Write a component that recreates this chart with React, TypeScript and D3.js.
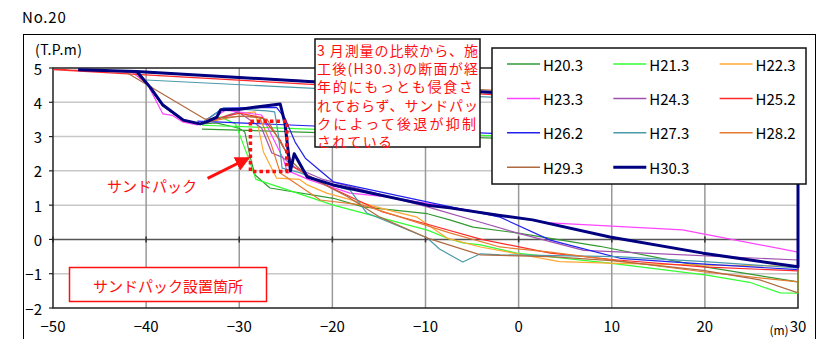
import React, { useEffect, useRef } from "react";
import * as d3 from "d3";

// survey names and colours (legend order)
const surveys = ["H20.3", "H21.3", "H22.3", "H23.3", "H24.3", "H25.2", "H26.2", "H27.3", "H28.2", "H29.3", "H30.3"];
const surveyColors = ["#339933", "#33ff33", "#ffa833", "#ff44ff", "#a050b0", "#ff2a2a", "#2222ee", "#4a9aaa", "#e67a2e", "#b06a40", "#000080"];

// cross-section profiles [distance (m), elevation (T.P.m)]
const h20_3 = [[-47.3, 4.95], [-41.2, 4.9], [-39.6, 4.45], [-38.2, 3.9], [-36, 3.47], [-34.2, 3.36], [-32.5, 3.4], [-30.1, 3.25], [-29.4, 3.13], [-28.8, 2.37], [-28.3, 1.88], [-26.7, 1.5], [-19.9, 1.2], [-16.7, 0.95], [-9.8, 0.75], [-7.4, 0.57], [-4.9, 0.36], [-0.2, 0.19], [8.7, -0.2], [20, -0.8], [30, -1.24], [30, 2.68], [-34, 3.22]];
const h21_3 = [[-47.3, 4.95], [-41.2, 4.9], [-39.6, 4.45], [-38.2, 3.9], [-36, 3.47], [-34.2, 3.36], [-32, 3.57], [-30.4, 3.37], [-29, 2.37], [-28.2, 1.75], [-19.9, 1.0], [-9.8, 0.27], [-7.7, 0.04], [-6, -0.1], [-4.1, -0.16], [-0.2, -0.4], [10, -0.7], [20.2, -1.04], [24.8, -1.25], [28.1, -1.56], [30, -1.57], [30, 2.7], [-34, 3.33]];
const h22_3 = [[-47.3, 4.95], [-41.2, 4.9], [-39.6, 4.45], [-38.2, 3.9], [-36, 3.47], [-34.2, 3.36], [-33, 3.45], [-31, 3.65], [-28.3, 3.72], [-27.4, 2.55], [-26, 1.79], [-23.5, 1.75], [-22.7, 1.59], [-20.6, 1.35], [-14.1, 0.86], [-10.9, 0.65], [-7.7, 0.04], [-4.1, -0.22], [4.4, -0.65], [10.6, -0.7], [20, -0.75], [30, -0.78]];
const h23_3 = [[-47.3, 4.95], [-41.5, 4.88], [-39.8, 4.5], [-38.2, 3.66], [-37.2, 3.62], [-36.1, 3.43], [-34.5, 3.34], [-33, 3.5], [-31.5, 3.77], [-27.6, 3.63], [-25.3, 2.37], [-24.8, 1.94], [-24.5, 1.97], [-22.4, 1.73], [-18.1, 1.35], [-14.1, 1.24], [-7.4, 0.94], [-4.1, 0.8], [3.4, 0.48], [17.6, 0.28], [30, -0.37]];
const h24_3 = [[-47.3, 4.95], [-41.2, 4.9], [-39.6, 4.45], [-38.2, 3.9], [-36, 3.47], [-34.2, 3.36], [-33, 3.45], [-30.1, 3.72], [-27.6, 3.25], [-26.5, 2.52], [-25.4, 2.4], [-24, 2.1], [-21, 1.75], [-9.8, 0.95], [-4.1, 0.5], [-0.2, 0.19], [7, -0.32], [30, -0.6]];
const h25_2 = [[-50, 4.95], [-41.2, 4.88], [-39.6, 4.43], [-38.2, 3.9], [-36, 3.46], [-34.2, 3.36], [-32, 3.55], [-30, 3.68], [-27.5, 3.55], [-25.6, 2.9], [-24.2, 2.11], [-20.3, 1.53], [-14.6, 0.8], [-9.5, 0.42], [-4, 0.0], [3.4, -0.4], [10.6, -0.6], [19.8, -0.8], [30, -0.92], [30, 3.72], [-50, 4.95]];
const h26_2 = [[-47.3, 4.95], [-41.2, 4.9], [-39.6, 4.45], [-38.2, 3.9], [-36, 3.47], [-34.2, 3.36], [-31.7, 3.83], [-26, 3.85], [-25.1, 3.54], [-24, 2.84], [-22.9, 2.37], [-19.9, 1.68], [-9.2, 1.06], [-2, 0.65], [3.4, -0.02], [10.9, -0.55], [20, -0.72], [30, -0.88], [30, 2.72], [-34.5, 3.45]];
const h27_3 = [[-47.3, 4.95], [-41.2, 4.9], [-39.6, 4.45], [-38.2, 3.9], [-36, 3.47], [-34.2, 3.36], [-31.7, 3.83], [-27, 3.75], [-26.2, 3.72], [-25.8, 3.05], [-25.4, 2.08], [-23.5, 1.95], [-20.3, 1.6], [-18.1, 1.44], [-16.3, 0.77], [-9.8, 0.04], [-8.5, -0.28], [-6, -0.66], [-4.1, -0.42], [-2, -0.45], [10.6, -0.5], [20, -0.65], [30, -0.83], [30, 3.7], [-40, 4.65]];
const h28_2 = [[-47.3, 4.95], [-41.2, 4.9], [-39.6, 4.45], [-38.2, 3.9], [-36, 3.47], [-34.2, 3.36], [-33, 3.45], [-30, 3.6], [-27.8, 3.55], [-26.6, 2.8], [-25.6, 1.94], [-21.3, 1.15], [-16.7, 1.0], [-7.4, 0.19], [-2, -0.22], [3.4, -0.37], [20, -0.95], [30, -1.24]];
const h29_3 = [[-42.3, 4.9], [-33.7, 3.51], [-32, 3.55], [-29, 3.6], [-27, 3.5], [-25.3, 2.7], [-24.2, 2.23], [-22.7, 1.85], [-18.4, 1.25], [-14.9, 0.65], [-9.8, 0.04], [-4.1, -0.45], [3.4, -0.5], [10, -0.62], [19.8, -0.9], [25.9, -1.18], [30, -1.56], [30, 3.9], [-42.3, 4.9]];
const h30_3 = [[-47.3, 4.95], [-41, 4.9], [-39.6, 4.45], [-38.2, 3.92], [-36, 3.48], [-34.2, 3.37], [-33.5, 3.43], [-32.4, 3.57], [-32, 3.78], [-29.9, 3.8], [-25.6, 3.95], [-25.1, 3.4], [-24.5, 2.0], [-24.1, 2.5], [-22.7, 1.82], [-19.9, 1.59], [-17.4, 1.44], [-9.8, 1.0], [-7.4, 0.92], [-2, 0.7], [1.5, 0.57], [9.8, 0.07], [19.8, -0.4], [30, -0.8], [30, 3.76], [-41, 4.9]];
const profiles = [h20_3, h21_3, h22_3, h23_3, h24_3, h25_2, h26_2, h27_3, h28_2, h29_3, h30_3];

const xTicks = [-50, -40, -30, -20, -10, 0, 10, 20, 30];
const yTicks = [-2, -1, 0, 1, 2, 3, 4, 5];

// sand pack zone (distance / elevation)
const sandPackX = [-28.8, -24.9];
const sandPackY = [1.98, 3.45];

const noteLines = [
  "3 月測量の比較から、施",
  "工後(H30.3)の断面が経",
  "年的にもっとも侵食さ",
  "れておらず、サンドパッ",
  "クによって後退が抑制",
  "されている",
];

const JP = "'Noto Sans CJK JP', 'Noto Sans', sans-serif";

function App() {
  const svgRef = useRef<SVGSVGElement>(null);

  useEffect(() => {
    const W = 825;
    const H = 339;
    const margin = { top: 68, right: 27, bottom: 31, left: 53 };
    const svg = d3.select(svgRef.current);
    svg.selectAll("*").remove();

    const x = d3.scaleLinear().domain([-50, 30]).range([margin.left, W - margin.right]);
    const y = d3.scaleLinear().domain([-2, 5]).range([H - margin.bottom, margin.top]);

    // outer frame
    svg.append("rect").attr("width", W).attr("height", H).attr("fill", "#fff");
    svg
      .append("rect")
      .attr("x", 23.5)
      .attr("y", 34.5)
      .attr("width", 792)
      .attr("height", 330)
      .attr("fill", "#fff")
      .attr("stroke", "#000")
      .attr("stroke-width", 1);

    svg
      .append("text")
      .attr("x", 22)
      .attr("y", 16)
      .attr("dominant-baseline", "central")
      .style("font-family", JP)
      .style("font-size", "15px")
      .style("letter-spacing", "0.8px")
      .text("No.20");

    svg
      .append("text")
      .attr("x", 35)
      .attr("y", 49)
      .attr("dominant-baseline", "central")
      .style("font-family", JP)
      .style("font-size", "14px")
      .style("letter-spacing", "0.5px")
      .text("(T.P.m)");

    // grid
    const grid = svg.append("g");
    grid
      .selectAll(".hg")
      .data(yTicks.filter((d) => d !== 0 && d !== 5 && d !== -2))
      .join("line")
      .attr("x1", x(-50))
      .attr("x2", x(30))
      .attr("y1", (d) => y(d))
      .attr("y2", (d) => y(d))
      .attr("stroke", "#c8c8c8")
      .attr("stroke-width", 1.5);
    grid
      .selectAll(".vg")
      .data(xTicks.filter((d) => d !== -50 && d !== 30))
      .join("line")
      .attr("x1", (d) => x(d))
      .attr("x2", (d) => x(d))
      .attr("y1", y(5))
      .attr("y2", y(-2))
      .attr("stroke", "#999")
      .attr("stroke-width", 1.5);
    grid
      .append("line")
      .attr("x1", x(-50))
      .attr("x2", x(30))
      .attr("y1", y(0))
      .attr("y2", y(0))
      .attr("stroke", "#555")
      .attr("stroke-width", 1.5);
    grid
      .selectAll(".zt")
      .data(xTicks)
      .join("line")
      .attr("x1", (d) => x(d))
      .attr("x2", (d) => x(d))
      .attr("y1", y(0) - 3)
      .attr("y2", y(0) + 3)
      .attr("stroke", "#333")
      .attr("stroke-width", 1.5);
    grid
      .selectAll(".yt")
      .data(yTicks)
      .join("line")
      .attr("x1", x(-50) - 4)
      .attr("x2", x(-50))
      .attr("y1", (d) => y(d))
      .attr("y2", (d) => y(d))
      .attr("stroke", "#222")
      .attr("stroke-width", 1.2);

    svg
      .append("rect")
      .attr("x", x(-50))
      .attr("y", y(5))
      .attr("width", x(30) - x(-50))
      .attr("height", y(-2) - y(5))
      .attr("fill", "none")
      .attr("stroke", "#222")
      .attr("stroke-width", 1.5);

    // tick labels
    svg
      .selectAll(".yl")
      .data(yTicks)
      .join("text")
      .attr("x", 42)
      .attr("y", (d) => y(d))
      .attr("text-anchor", "end")
      .attr("dominant-baseline", "central")
      .style("font-family", JP)
      .style("font-size", "15px")
      .text((d) => (d < 0 ? "\u2212" + Math.abs(d) : String(d)));
    svg
      .selectAll(".xl")
      .data(xTicks)
      .join("text")
      .attr("x", (d) => x(d))
      .attr("y", 325)
      .attr("text-anchor", "middle")
      .attr("dominant-baseline", "central")
      .style("font-family", JP)
      .style("font-size", "15px")
      .text((d) => (d < 0 ? "\u2212" + Math.abs(d) : String(d)));
    svg
      .append("text")
      .attr("x", 779)
      .attr("y", 329)
      .attr("text-anchor", "middle")
      .attr("dominant-baseline", "central")
      .style("font-family", JP)
      .style("font-size", "12px")
      .text("(m)");

    // profiles
    const line = d3
      .line<number[]>()
      .x((d) => x(d[0]))
      .y((d) => y(d[1]));
    profiles.forEach((p, i) => {
      svg
        .append("path")
        .attr("d", line(p))
        .attr("fill", "none")
        .attr("stroke", surveyColors[i])
        .attr("stroke-width", i === profiles.length - 1 ? 3 : 1.2)
        .attr("stroke-linejoin", "round");
    });

    // sand pack dotted box
    svg
      .append("rect")
      .attr("x", x(sandPackX[0]))
      .attr("y", y(sandPackY[1]))
      .attr("width", x(sandPackX[1]) - x(sandPackX[0]))
      .attr("height", y(sandPackY[0]) - y(sandPackY[1]))
      .attr("fill", "none")
      .attr("stroke", "#ff1010")
      .attr("stroke-width", 3.5)
      .attr("stroke-dasharray", "3.5,3");

    // arrow
    const defs = svg.append("defs");
    defs
      .append("marker")
      .attr("id", "arrow")
      .attr("viewBox", "0 0 10 10")
      .attr("refX", 8)
      .attr("refY", 5)
      .attr("markerWidth", 5)
      .attr("markerHeight", 5)
      .attr("orient", "auto")
      .append("path")
      .attr("d", "M0,0L10,5L0,10Z")
      .attr("fill", "#ff1010");
    svg
      .append("line")
      .attr("x1", x(-33.4))
      .attr("y1", y(1.78))
      .attr("x2", x(-29.1))
      .attr("y2", y(2.36))
      .attr("stroke", "#ff1010")
      .attr("stroke-width", 3)
      .attr("marker-end", "url(#arrow)");
    svg
      .append("text")
      .attr("x", 107)
      .attr("y", 185)
      .attr("dominant-baseline", "central")
      .style("font-family", JP)
      .style("font-size", "15px")
      .style("fill", "#ff1010")
      .text("サンドパック");

    // sand pack location label
    svg
      .append("rect")
      .attr("x", 69.5)
      .attr("y", 267.5)
      .attr("width", 197)
      .attr("height", 34)
      .attr("fill", "#fff")
      .attr("stroke", "#ff1010")
      .attr("stroke-width", 1.5);
    svg
      .append("text")
      .attr("x", 168)
      .attr("y", 285)
      .attr("text-anchor", "middle")
      .attr("dominant-baseline", "central")
      .style("font-family", JP)
      .style("font-size", "15px")
      .style("fill", "#ff1010")
      .text("サンドパック設置箇所");

    // note box
    svg
      .append("rect")
      .attr("x", 315)
      .attr("y", 39)
      .attr("width", 165)
      .attr("height", 108)
      .attr("fill", "#fff")
      .attr("stroke", "#111")
      .attr("stroke-width", 1.5);
    const noteLengths = [161, 161, 156, 161, 159, 75];
    svg
      .selectAll(".note")
      .data(noteLines)
      .join("text")
      .attr("x", 317)
      .attr("y", (d, i) => 50 + i * 18.2)
      .attr("dominant-baseline", "central")
      .attr("textLength", (d, i) => noteLengths[i])
      .attr("lengthAdjust", "spacing")
      .style("font-family", JP)
      .style("font-size", "14px")
      .style("fill", "#ff1010")
      .text((d) => d);

    // legend
    const legend = svg.append("g");
    legend
      .append("rect")
      .attr("x", 492)
      .attr("y", 48)
      .attr("width", 314)
      .attr("height", 136)
      .attr("fill", "#fff")
      .attr("stroke", "#111")
      .attr("stroke-width", 1.5);
    surveys.forEach((name, i) => {
      const col = i % 3;
      const row = Math.floor(i / 3);
      const lx = 507 + col * 106.3;
      const ly = 64 + row * 34.4;
      const item = legend.append("g").attr("transform", `translate(${lx},${ly})`);
      item
        .append("line")
        .attr("x1", 0)
        .attr("x2", 33)
        .attr("stroke", surveyColors[i])
        .attr("stroke-width", i === surveys.length - 1 ? 3 : 1.5);
      item
        .append("text")
        .attr("x", 36)
        .attr("dominant-baseline", "central")
        .style("font-family", JP)
        .style("font-size", "15px")
        .text(name);
    });
  }, []);

  return (
    <svg
      ref={svgRef}
      width={825}
      height={339}
      style={{ position: "absolute", left: 0, top: 0 }}
    />
  );
}

export default App;
